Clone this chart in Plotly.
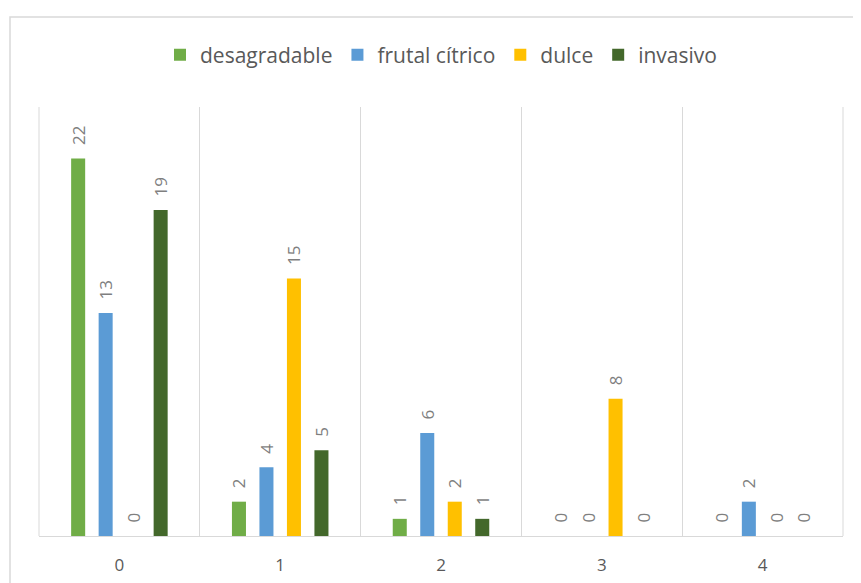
import plotly.graph_objects as go

categories = ["0", "1", "2", "3", "4"]
series_names = ["desagradable", "frutal cítrico", "dulce", "invasivo"]
desagradable = [22, 2, 1, 0, 0]
frutal_citrico = [13, 4, 6, 0, 2]
dulce = [0, 15, 2, 8, 0]
invasivo = [19, 5, 1, 0, 0]
colors = ["#70AD47", "#5B9BD5", "#FFC000", "#43682B"]

PAD = "\u00a0\u00a0\u200a"

# page body has an 8px margin, so figure coords = screen coords - 8
W, H = 853, 575
L, T, PW, PH = 31, 99, 804, 429

fig = go.Figure()
for name, vals, col in zip(series_names, [desagradable, frutal_citrico, dulce, invasivo], colors):
    fig.add_trace(go.Bar(
        x=categories, y=vals, name=name,
        marker=dict(color=col, line=dict(width=0)),
        text=[PAD + str(v) for v in vals], textposition="outside", textangle=-90,
        textfont=dict(family="Open Sans", size=17, color="#7f7f7f"),
        constraintext="none", cliponaxis=False,
    ))

fig.update_layout(
    width=W, height=H,
    margin=dict(l=L, r=W - L - PW, t=T, b=H - T - PH, autoexpand=False),
    paper_bgcolor="white", plot_bgcolor="white",
    barmode="group", bargap=0.316, bargroupgap=0.49,
    font=dict(family="Open Sans", color="#595959"),
    legend=dict(orientation="h", x=0.5, xanchor="center", y=1 + (T - 47) / PH, yanchor="middle",
                font=dict(size=21, color="#595959"), itemwidth=30, traceorder="normal",
                bgcolor="rgba(0,0,0,0)"),
    showlegend=True,
)
fig.update_xaxes(
    type="category", tickson="boundaries", showgrid=True, gridcolor="#d9d9d9", gridwidth=1,
    showline=True, linecolor="#d9d9d9", linewidth=1, ticks="", tickfont=dict(size=17, color="#595959"),
    ticklabelstandoff=14, automargin=False,
)
fig.update_yaxes(range=[0, 25], visible=False, showgrid=False, zeroline=False, automargin=False)

# outer chart border
fig.add_shape(type="rect", xref="paper", yref="paper",
              x0=(2 - L) / PW, x1=(W + 10 - L) / PW, y0=-(H + 10 - T - PH) / PH, y1=1 + (T - 9) / PH,
              line=dict(color="#d9d9d9", width=1.5), fillcolor="rgba(0,0,0,0)", layer="below")
# gridlines at the outer category boundaries
for xp in (0, 1):
    fig.add_shape(type="line", xref="paper", yref="paper", x0=xp, x1=xp, y0=0, y1=1,
                  line=dict(color="#d9d9d9", width=1), layer="below")

fig.write_html("out.html")
